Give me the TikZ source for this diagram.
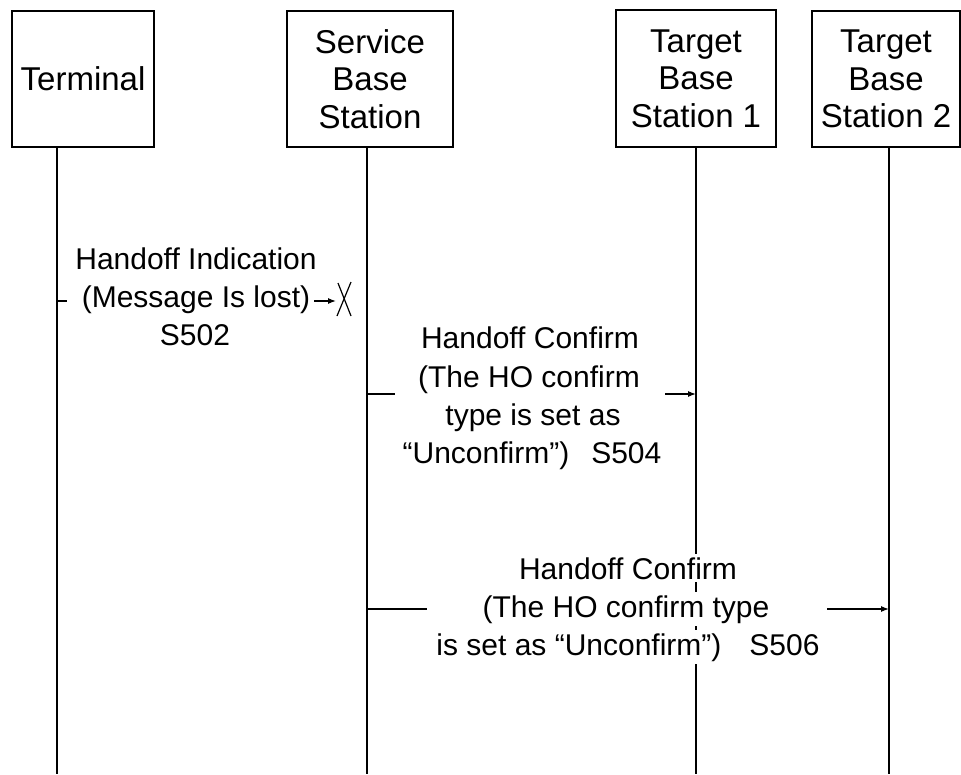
\documentclass[tikz,border=0pt]{standalone}
\usepackage{fontspec}
\setmainfont{Liberation Sans}
\usetikzlibrary{arrows.meta}
\begin{document}
\begin{tikzpicture}[x=1pt,y=-1pt,
  actor/.style={draw,line width=1.3pt,inner sep=0pt,align=center,font=\fontsize{33}{37.5}\selectfont},
  msg/.style={fill=white,inner xsep=1pt,inner ysep=3pt,anchor=base,font=\fontsize{30}{38}\selectfont},
  life/.style={line width=1.5pt},
  plain/.style={line width=1.2pt},
  arr/.style={line width=1.2pt,-{Latex[length=8pt,width=6pt]}},
]
\useasboundingbox (0,0) rectangle (961,774);
\fill[white] (0,0) rectangle (961,774);
% actors
\node[actor,minimum width=142pt,minimum height=136pt] (term) at (83,79) {Terminal};
\node[actor,minimum width=166pt,minimum height=136pt] (serv) at (370,79) {Service\\Base\\Station};
\node[actor,minimum width=160pt,minimum height=137pt] (tbs1) at (696,78.5) {Target\\Base\\Station 1};
\node[actor,minimum width=148pt,minimum height=136pt] (tbs2) at (886,79) {Target\\Base\\Station 2};
% lifeline ends
\coordinate (lt) at (57,774);
\coordinate (ls) at (367,774);
\coordinate (l1) at (696,774);
\coordinate (l2) at (889,774);
\draw[life] (term.south -| lt) -- (lt);
\draw[life] (serv.south -| ls) -- (ls);
\draw[life] (tbs1.south -| l1) -- (l1);
\draw[life] (tbs2.south -| l2) -- (l2);
% S502
\node[msg] (m1a) at (196,269) {Handoff Indication};
\node[msg] (m1b) at (196,307) {(Message Is lost)};
\node[msg] (m1c) at (195,345) {S502};
\coordinate (s1a) at (67,301);
\coordinate (s1b) at (314,301);
\coordinate (s1c) at (336,301);
\draw[plain] (lt |- s1a) -- (s1a);
\draw[arr] (s1b) -- (s1c);
\coordinate (xa) at (338,283);
\coordinate (xb) at (351,316);
\coordinate (xc) at (351,282);
\coordinate (xd) at (337,316);
\draw[plain] (xa) -- (xb);
\draw[plain] (xc) -- (xd);
% S504
\node[msg] (m2a) at (530,348) {Handoff Confirm};
\node[msg] (m2b) at (529,387) {(The HO confirm};
\node[msg] (m2c) at (533,425) {type is set as};
\node[msg] (m2d) at (532,463) {“Unconfirm”)\hspace{22pt}S504};
\coordinate (s2a) at (395,394);
\coordinate (s2b) at (665,394);
\draw[plain] (ls |- s2a) -- (s2a);
\draw[arr] (s2b) -- (l1 |- s2b);
% S506
\node[msg] (m3a) at (628,579) {Handoff Confirm};
\node[msg] (m3b) at (626,617) {(The HO confirm type};
\node[msg] (m3c) at (628,655) {is set as “Unconfirm”)\hspace{28pt}S506};
\coordinate (s3a) at (427,609);
\coordinate (s3b) at (827,609);
\draw[plain] (ls |- s3a) -- (s3a);
\draw[arr] (s3b) -- (l2 |- s3b);
\end{tikzpicture}
\end{document}
